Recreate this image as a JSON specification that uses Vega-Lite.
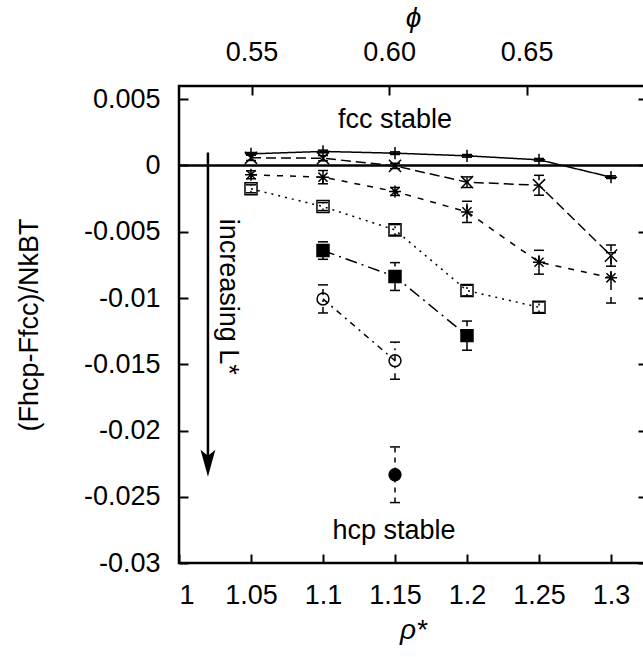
{
  "$schema": "https://vega.github.io/schema/vega-lite/v6.json",
  "width": 468,
  "height": 477,
  "autosize": {"type": "none"},
  "padding": {"left": 179, "top": 86, "right": 0, "bottom": 94},
  "background": "white",
  "config": {
    "view": {"stroke": "black", "strokeWidth": 2.5},
    "axis": {
      "labelFont": "Liberation Sans", "labelFontSize": 27, "labelColor": "black",
      "titleFont": "Liberation Sans", "titleFontSize": 27, "titleColor": "black", "titleFontWeight": "normal",
      "tickColor": "black", "tickWidth": 2, "tickSize": -9, "domain": false, "grid": false
    },
    "text": {"font": "Liberation Sans", "fontSize": 27, "color": "black"}
  },
  "datasets": {
    "one": [{}],
    "pts": [
      {"s": "s1", "rho": 1.05, "v": 0.00088, "lo": 0.00078, "hi": 0.00098},
      {"s": "s1", "rho": 1.10, "v": 0.00106, "lo": 0.00096, "hi": 0.00116},
      {"s": "s1", "rho": 1.15, "v": 0.00093, "lo": 0.00083, "hi": 0.00103},
      {"s": "s1", "rho": 1.20, "v": 0.00073, "lo": 0.00063, "hi": 0.00083},
      {"s": "s1", "rho": 1.25, "v": 0.00043, "lo": 0.00033, "hi": 0.00053},
      {"s": "s1", "rho": 1.30, "v": -0.00088, "lo": -0.00098, "hi": -0.00078},
      {"s": "s2", "rho": 1.05, "v": 0.00058, "lo": 0.00038, "hi": 0.00078},
      {"s": "s2", "rho": 1.10, "v": 0.00055, "lo": 0.00035, "hi": 0.00075},
      {"s": "s2", "rho": 1.15, "v": -0.00003, "lo": -0.00023, "hi": 0.00017},
      {"s": "s2", "rho": 1.20, "v": -0.00126, "lo": -0.00166, "hi": -0.00086},
      {"s": "s2", "rho": 1.25, "v": -0.00149, "lo": -0.00224, "hi": -0.00074},
      {"s": "s2", "rho": 1.30, "v": -0.0068, "lo": -0.0076, "hi": -0.006},
      {"s": "s3", "rho": 1.05, "v": -0.0007, "lo": -0.001, "hi": -0.0004},
      {"s": "s3", "rho": 1.10, "v": -0.00088, "lo": -0.00138, "hi": -0.00038},
      {"s": "s3", "rho": 1.15, "v": -0.00196, "lo": -0.00226, "hi": -0.00166},
      {"s": "s3", "rho": 1.20, "v": -0.0035, "lo": -0.0043, "hi": -0.0027},
      {"s": "s3", "rho": 1.25, "v": -0.0073, "lo": -0.0082, "hi": -0.0064},
      {"s": "s3", "rho": 1.30, "v": -0.00848, "lo": -0.01038, "hi": -0.00658},
      {"s": "s4", "rho": 1.05, "v": -0.00176, "lo": -0.00206, "hi": -0.00146},
      {"s": "s4", "rho": 1.10, "v": -0.0031, "lo": -0.0034, "hi": -0.0028},
      {"s": "s4", "rho": 1.15, "v": -0.00486, "lo": -0.00526, "hi": -0.00446},
      {"s": "s4", "rho": 1.20, "v": -0.00944, "lo": -0.00984, "hi": -0.00904},
      {"s": "s4", "rho": 1.25, "v": -0.0107, "lo": -0.0111, "hi": -0.0103},
      {"s": "s5", "rho": 1.10, "v": -0.00642, "lo": -0.00708, "hi": -0.00576},
      {"s": "s5", "rho": 1.15, "v": -0.00838, "lo": -0.00943, "hi": -0.00733},
      {"s": "s5", "rho": 1.20, "v": -0.01284, "lo": -0.01394, "hi": -0.01174},
      {"s": "s6", "rho": 1.10, "v": -0.01007, "lo": -0.01113, "hi": -0.00901},
      {"s": "s6", "rho": 1.15, "v": -0.01473, "lo": -0.01613, "hi": -0.01333},
      {"s": "s7", "rho": 1.15, "v": -0.02334, "lo": -0.02544, "hi": -0.02124}
    ]
  },
  "resolve": {"axis": {"x": "independent", "y": "independent"}},
  "layer": [
    {
      "data": {"name": "pts"},
      "mark": {"type": "line", "strokeWidth": 1.5, "color": "black"},
      "encoding": {
        "x": {"field": "rho", "type": "quantitative",
              "scale": {"domain": [1, 1.325], "nice": false, "zero": false},
              "axis": {"orient": "bottom", "values": [1, 1.05, 1.1, 1.15, 1.2, 1.25, 1.3],
                       "labelExpr": "'' + datum.value", "labelPadding": 28,
                       "title": "ρ*", "titleFontStyle": "italic", "titleFontSize": 28, "titlePadding": 8}},
        "y": {"field": "v", "type": "quantitative",
              "scale": {"domain": [-0.03, 0.006], "nice": false, "zero": false},
              "axis": {"orient": "left", "values": [-0.03, -0.025, -0.02, -0.015, -0.01, -0.005, 0, 0.005],
                       "labelExpr": "'' + datum.value", "labelPadding": 28,
                       "title": "(Fhcp-Ffcc)/NkBT", "titlePadding": 40}},
        "strokeDash": {"field": "s", "type": "nominal",
                       "scale": {"domain": ["s1", "s2", "s3", "s4", "s5", "s6", "s7"],
                                 "range": [[1, 0], [10, 5], [6, 7], [2, 5], [12, 5, 2, 5], [6, 5, 2, 5], [5, 5]]},
                       "legend": null}
      }
    },
    {
      "data": {"name": "pts"},
      "mark": {"type": "rule", "strokeWidth": 1.5, "color": "black"},
      "encoding": {
        "x": {"field": "rho", "type": "quantitative", "axis": null},
        "y": {"field": "lo", "type": "quantitative", "axis": null},
        "y2": {"field": "hi"},
        "strokeDash": {"field": "s", "type": "nominal", "legend": null}
      }
    },
    {
      "data": {"name": "pts"},
      "mark": {"type": "tick", "orient": "horizontal", "size": 10, "thickness": 1.5, "color": "black", "opacity": 1},
      "encoding": {
        "x": {"field": "rho", "type": "quantitative", "axis": null},
        "y": {"field": "lo", "type": "quantitative", "axis": null}
      }
    },
    {
      "data": {"name": "pts"},
      "mark": {"type": "tick", "orient": "horizontal", "size": 10, "thickness": 1.5, "color": "black", "opacity": 1},
      "encoding": {
        "x": {"field": "rho", "type": "quantitative", "axis": null},
        "y": {"field": "hi", "type": "quantitative", "axis": null}
      }
    },
    {
      "data": {"name": "pts"},
      "mark": {"type": "point", "stroke": "black", "strokeWidth": 1.5, "opacity": 1},
      "encoding": {
        "x": {"field": "rho", "type": "quantitative", "axis": null},
        "y": {"field": "v", "type": "quantitative", "axis": null},
        "shape": {"field": "s", "type": "nominal", "legend": null,
                  "scale": {"domain": ["s1", "s2", "s3", "s4", "s5", "s6", "s7"],
                            "range": ["M-1,0L1,0M0,-1L0,1", "M-1,-1L1,1M-1,1L1,-1",
                                      "M-1,0L1,0M0,-1L0,1M-0.75,-0.75L0.75,0.75M-0.75,0.75L0.75,-0.75",
                                      "square", "square", "circle", "circle"]}},
        "fill": {"field": "s", "type": "nominal", "legend": null,
                 "scale": {"domain": ["s1", "s2", "s3", "s4", "s5", "s6", "s7"],
                           "range": ["transparent", "transparent", "transparent", "transparent", "black", "transparent", "black"]}},
        "size": {"field": "s", "type": "nominal", "legend": null,
                 "scale": {"domain": ["s1", "s2", "s3", "s4", "s5", "s6", "s7"],
                           "range": [150, 140, 160, 100, 110, 80, 100]}}
      }
    },
    {
      "data": {"name": "one"},
      "mark": {"type": "rule", "strokeWidth": 2.5, "color": "black"},
      "encoding": {
        "y": {"datum": 0, "type": "quantitative",
              "axis": {"orient": "right", "values": [-0.03, -0.025, -0.02, -0.015, -0.01, -0.005, 0, 0.005],
                       "labels": false, "title": null}}
      }
    },
    {
      "data": {"name": "one"},
      "mark": {"type": "rule", "strokeWidth": 2.5, "color": "black"},
      "encoding": {
        "x": {"datum": 1.0201, "type": "quantitative",
              "axis": {"orient": "top", "values": [1.05042, 1.14592, 1.24141],
                       "labelExpr": "format(datum.value * PI / 6, '.2f')", "labelPadding": 29,
                       "title": "ϕ", "titleFontStyle": "italic", "titleFontSize": 28, "titlePadding": 6}},
        "y": {"datum": 0.00098, "type": "quantitative", "axis": null},
        "y2": {"datum": -0.0222}
      }
    },
    {
      "data": {"name": "one"},
      "mark": {"type": "point", "shape": "M0,1L-0.55,-1L0,-0.55L0.55,-1Z", "size": 729, "filled": true, "color": "black", "opacity": 1},
      "encoding": {
        "x": {"datum": 1.0201, "type": "quantitative", "axis": null},
        "y": {"datum": -0.02247, "type": "quantitative", "axis": null}
      }
    },
    {
      "data": {"name": "one"},
      "mark": {"type": "text", "text": "fcc stable", "align": "center", "baseline": "middle"},
      "encoding": {
        "x": {"datum": 1.15, "type": "quantitative", "axis": null},
        "y": {"datum": 0.0034, "type": "quantitative", "axis": null}
      }
    },
    {
      "data": {"name": "one"},
      "mark": {"type": "text", "text": "hcp stable", "align": "center", "baseline": "middle"},
      "encoding": {
        "x": {"datum": 1.1493, "type": "quantitative", "axis": null},
        "y": {"datum": -0.02757, "type": "quantitative", "axis": null}
      }
    },
    {
      "data": {"name": "one"},
      "mark": {"type": "text", "text": "increasing L*", "align": "center", "baseline": "middle", "angle": 90},
      "encoding": {
        "x": {"datum": 1.034, "type": "quantitative", "axis": null},
        "y": {"datum": -0.0099, "type": "quantitative", "axis": null}
      }
    }
  ]
}
